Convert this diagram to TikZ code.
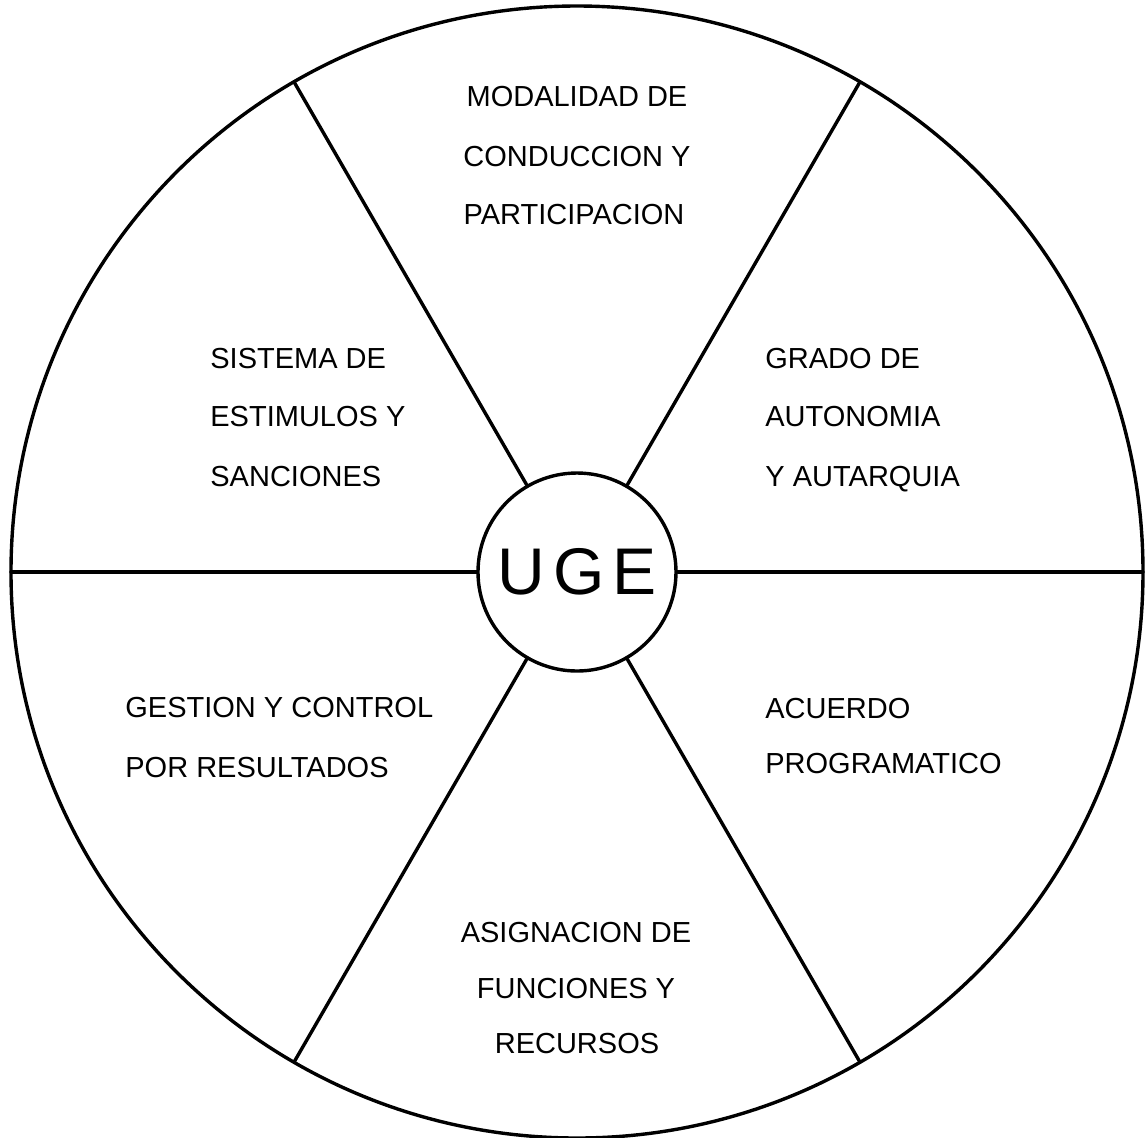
\documentclass[tikz,border=0pt]{standalone}
\usepackage{fontspec}
\setmainfont{Liberation Sans}
\begin{document}
\begin{tikzpicture}[x=0.5pt,y=-0.5pt,
  ln/.style={line width=1.7pt,line cap=round},
  lbl/.style={font=\fontsize{14.5}{16}\selectfont,inner sep=0pt},
  hubstyle/.style={circle,draw,line width=1.7pt,minimum size=99pt,inner sep=0pt,
    font=\fontsize{33}{36}\selectfont}]
\useasboundingbox (0,0) rectangle (1147,1137);
\coordinate (c) at (577,572);
\draw[ln] (c) circle[radius=283pt];
\node[hubstyle] (hub) at (c) {U\hspace{4pt}G\hspace{4pt}E};
\foreach \a in {0,60,120,180,240,300}{
  \path (c) ++(\a:283pt) coordinate (rim\a);
}
\draw[ln] (hub.0) -- (rim0);
\draw[ln] (hub.60) -- (rim60);
\draw[ln] (hub.120) -- (rim120);
\draw[ln] (hub.180) -- (rim180);
\draw[ln] (hub.240) -- (rim240);
\draw[ln] (hub.300) -- (rim300);
% top
\node[lbl,anchor=base] (t1) at (577,106) {MODALIDAD DE};
\node[lbl,anchor=base] (t2) at (577,166) {CONDUCCION Y};
\node[lbl,anchor=base] (t3) at (574,224) {PARTICIPACION};
% upper left
\node[lbl,anchor=base west] (ul1) at (210,368) {SISTEMA DE};
\node[lbl,anchor=base west] (ul2) at (210,426) {ESTIMULOS Y};
\node[lbl,anchor=base west] (ul3) at (210,486) {SANCIONES};
% upper right
\node[lbl,anchor=base west] (ur1) at (765,368) {GRADO DE};
\node[lbl,anchor=base west] (ur2) at (765,426) {AUTONOMIA};
\node[lbl,anchor=base west] (ur3) at (765,486) {Y AUTARQUIA};
% lower left
\node[lbl,anchor=base west] (ll1) at (125,717) {GESTION Y CONTROL};
\node[lbl,anchor=base west] (ll2) at (125,777) {POR RESULTADOS};
% lower right
\node[lbl,anchor=base west] (lr1) at (765,718) {ACUERDO};
\node[lbl,anchor=base west] (lr2) at (765,773) {PROGRAMATICO};
% bottom
\node[lbl,anchor=base] (b1) at (576,942) {ASIGNACION DE};
\node[lbl,anchor=base] (b2) at (576,998) {FUNCIONES Y};
\node[lbl,anchor=base] (b3) at (577,1053) {RECURSOS};
\end{tikzpicture}
\end{document}
